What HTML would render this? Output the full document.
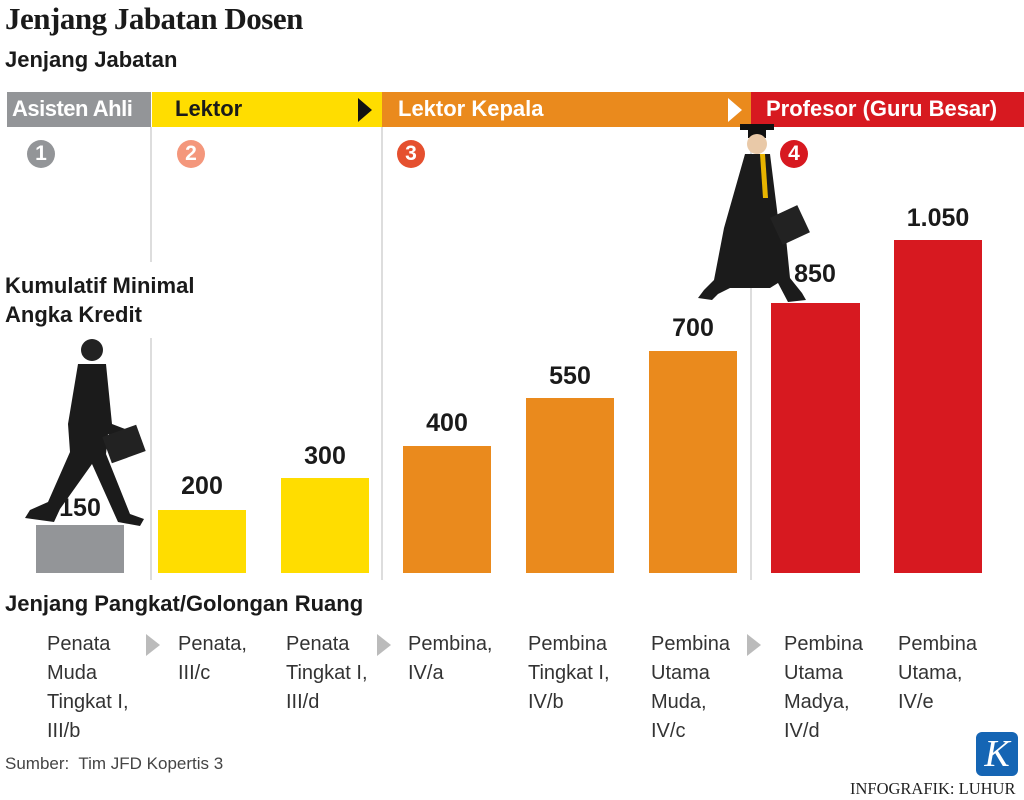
<!DOCTYPE html>
<html><head><meta charset="utf-8"><style>
body{margin:0;width:1024px;height:800px;background:#fff;position:relative;overflow:hidden;font-family:"Liberation Sans",sans-serif;color:#1a1a1a}
.a{position:absolute;white-space:nowrap}
.b{font-weight:bold;font-size:22px}
.bar{position:absolute}
.v{position:absolute;font-weight:bold;font-size:25px;text-align:center;width:90px}
.c{position:absolute;width:28px;height:28px;border-radius:50%;color:#fff;font-weight:bold;font-size:21px;text-align:center;line-height:28px;top:140px}
.p{position:absolute;top:630px;font-size:20px;line-height:29px;color:#333}
.vl{position:absolute;width:2px;background:#ddd}
</style></head><body>
<div class="a" style="left:5px;top:1px;font-family:'Liberation Serif',serif;font-weight:bold;font-size:31px;letter-spacing:-0.5px">Jenjang Jabatan Dosen</div>
<div class="a b" style="left:5px;top:47px">Jenjang Jabatan</div>
<div class="bar" style="left:7px;top:92px;width:144px;height:35px;background:#939598"></div>
<div class="bar" style="left:152px;top:92px;width:230px;height:35px;background:#ffdd00"></div>
<div class="bar" style="left:382px;top:92px;width:369px;height:35px;background:#ea8a1d"></div>
<div class="bar" style="left:751px;top:92px;width:273px;height:35px;background:#d71920"></div>
<div class="a b" style="left:12px;top:96px;color:#fff;letter-spacing:-0.5px">Asisten Ahli</div>
<div class="a b" style="left:175px;top:96px">Lektor</div>
<div class="a b" style="left:398px;top:96px;color:#fff">Lektor Kepala</div>
<div class="a b" style="left:766px;top:96px;color:#fff">Profesor (Guru Besar)</div>
<svg class="a" style="left:355px;top:96px" width="20" height="28"><polygon points="3,2 17,14 3,26" fill="#111"/></svg>
<svg class="a" style="left:725px;top:96px" width="20" height="28"><polygon points="3,2 17,14 3,26" fill="#fff"/></svg>
<div class="vl" style="left:150px;top:127px;height:135px"></div>
<div class="vl" style="left:150px;top:338px;height:242px"></div>
<div class="vl" style="left:381px;top:127px;height:453px"></div>
<div class="vl" style="left:750px;top:127px;height:453px"></div>
<div class="c" style="left:27px;background:#939598">1</div>
<div class="c" style="left:177px;background:#f4977c">2</div>
<div class="c" style="left:397px;background:#e5502f">3</div>
<div class="c" style="left:780px;background:#d71920">4</div>
<div class="a b" style="left:5px;top:271px;line-height:29px">Kumulatif Minimal<br>Angka Kredit</div>
<div class="bar" style="left:36px;top:525px;width:88px;height:48px;background:#939598"></div>
<div class="bar" style="left:158px;top:510px;width:88px;height:63px;background:#ffdd00"></div>
<div class="bar" style="left:281px;top:478px;width:88px;height:95px;background:#ffdd00"></div>
<div class="bar" style="left:403px;top:446px;width:88px;height:127px;background:#ea8a1d"></div>
<div class="bar" style="left:526px;top:398px;width:88px;height:175px;background:#ea8a1d"></div>
<div class="bar" style="left:649px;top:351px;width:88px;height:222px;background:#ea8a1d"></div>
<div class="bar" style="left:771px;top:303px;width:89px;height:270px;background:#d71920"></div>
<div class="bar" style="left:894px;top:240px;width:88px;height:333px;background:#d71920"></div>
<div class="v" style="left:35px;top:494px">150</div>
<div class="v" style="left:157px;top:472px">200</div>
<div class="v" style="left:280px;top:442px">300</div>
<div class="v" style="left:402px;top:409px">400</div>
<div class="v" style="left:525px;top:362px">550</div>
<div class="v" style="left:648px;top:314px">700</div>
<div class="v" style="left:770px;top:260px">850</div>
<div class="v" style="left:893px;top:204px">1.050</div>
<svg class="a" style="left:20px;top:334px" width="130" height="195">
<circle cx="72" cy="16" r="11" fill="#222"/>
<path d="M58,30 L86,30 L92,90 L118,100 L112,110 L88,100 L86,120 L110,180 L124,185 L120,192 L98,188 L72,130 L40,175 L34,188 L5,184 L10,176 L28,168 L50,118 L48,90 Z" fill="#1b1b1b"/>
<rect x="86" y="96" width="36" height="28" fill="#222" transform="rotate(-20 104 110)"/>
</svg>
<svg class="a" style="left:690px;top:118px" width="125" height="190">
<rect x="50" y="6" width="34" height="6" fill="#111"/><rect x="58" y="10" width="18" height="10" fill="#111"/>
<circle cx="67" cy="26" r="10" fill="#e9c9a8"/>
<path d="M55,36 L80,36 L88,100 L96,120 L100,160 L112,175 L116,182 L98,184 L88,165 L80,170 L40,170 L28,176 L22,182 L8,180 L14,172 L24,162 L34,110 Z" fill="#1b1b1b"/>
<path d="M70,36 L75,36 L78,80 L73,80 Z" fill="#e8b400"/>
<rect x="85" y="92" width="30" height="30" fill="#222" transform="rotate(-25 100 107)"/>
</svg>
<div class="a b" style="left:5px;top:591px">Jenjang Pangkat/Golongan Ruang</div>
<div class="p" style="left:47px">Penata<br>Muda<br>Tingkat I,<br>III/b</div>
<div class="p" style="left:178px">Penata,<br>III/c</div>
<div class="p" style="left:286px">Penata<br>Tingkat I,<br>III/d</div>
<div class="p" style="left:408px">Pembina,<br>IV/a</div>
<div class="p" style="left:528px">Pembina<br>Tingkat I,<br>IV/b</div>
<div class="p" style="left:651px">Pembina<br>Utama<br>Muda,<br>IV/c</div>
<div class="p" style="left:784px">Pembina<br>Utama<br>Madya,<br>IV/d</div>
<div class="p" style="left:898px">Pembina<br>Utama,<br>IV/e</div>
<svg class="a" style="left:144px;top:632px" width="20" height="26"><polygon points="2,2 16,13 2,24" fill="#bbb"/></svg>
<svg class="a" style="left:375px;top:632px" width="20" height="26"><polygon points="2,2 16,13 2,24" fill="#bbb"/></svg>
<svg class="a" style="left:745px;top:632px" width="20" height="26"><polygon points="2,2 16,13 2,24" fill="#bbb"/></svg>
<div class="a" style="left:5px;top:754px;font-size:17px;color:#444">Sumber:&nbsp; Tim JFD Kopertis 3</div>
<div class="a" style="left:976px;top:732px;width:42px;height:44px;background:#1565b4;border-radius:6px;color:#fff;font-family:'Liberation Serif',serif;font-style:italic;font-size:38px;text-align:center;line-height:44px">K</div>
<div class="a" style="left:850px;top:779px;font-family:'Liberation Serif',serif;font-size:16.5px;color:#222">INFOGRAFIK: LUHUR</div>
</body></html>
